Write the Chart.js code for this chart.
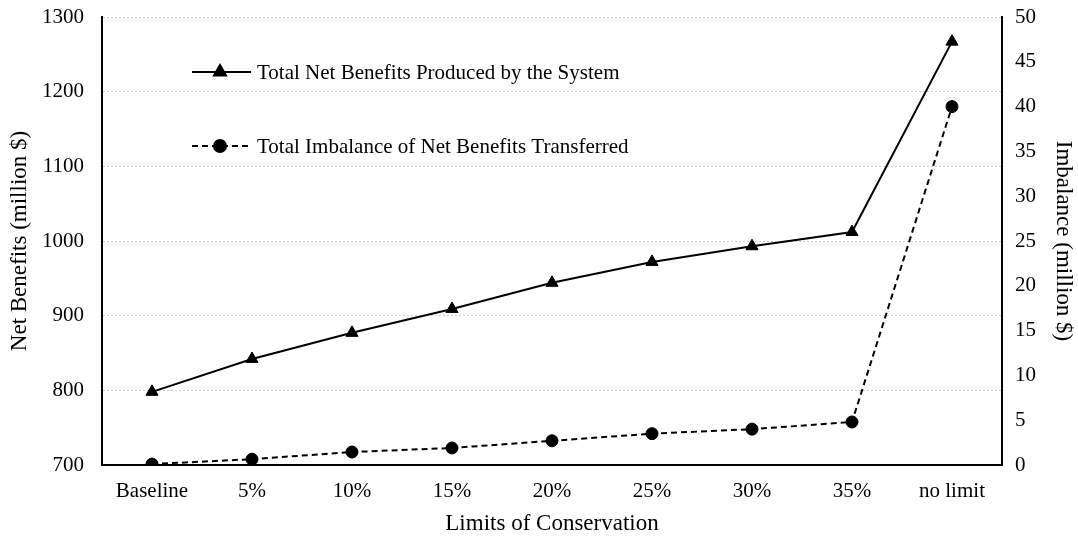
<!DOCTYPE html>
<html>
<head>
<meta charset="utf-8">
<script src="https://cdn.jsdelivr.net/npm/chart.js@4/dist/chart.umd.min.js"></script>
<style>
  html, body { margin: 0; padding: 0; background: #fff; }
  #wrap { width: 1078px; height: 539px; }
</style>
</head>
<body>
<div id="wrap"><canvas id="chart" width="1078" height="539"></canvas></div>
<script>
var categories = ['Baseline', '5%', '10%', '15%', '20%', '25%', '30%', '35%', 'no limit'];
var netBenefits = [798, 842, 877, 909, 944, 972, 993, 1012, 1267];
var imbalance = [0.1, 0.65, 1.45, 1.9, 2.7, 3.5, 4.0, 4.8, 40];
var leftTicks = [700, 800, 900, 1000, 1100, 1200, 1300];
var rightTicks = [0, 5, 10, 15, 20, 25, 30, 35, 40, 45, 50];

var serif = 'Liberation Serif';

// legend sits inside the plot, top left
var innerLegend = {
    id: 'innerLegend',
    afterDraw: function(chart) {
        var ctx = chart.ctx;
        var rows = [
            { y: 72, ds: chart.data.datasets[0] },
            { y: 146, ds: chart.data.datasets[1] }
        ];
        ctx.save();
        rows.forEach(function(r) {
            ctx.beginPath();
            ctx.strokeStyle = '#000';
            ctx.lineWidth = 2;
            ctx.setLineDash(r.ds.borderDash || []);
            ctx.moveTo(192, r.y);
            ctx.lineTo(251, r.y);
            ctx.stroke();
            ctx.setLineDash([]);
            Chart.helpers.drawPoint(ctx, {
                pointStyle: r.ds.pointStyle,
                radius: r.ds.pointRadius,
                borderWidth: 1
            }, 220, r.y);
            ctx.fillStyle = '#000';
            ctx.font = '21px "' + serif + '"';
            ctx.textAlign = 'left';
            ctx.textBaseline = 'middle';
            ctx.fillText(r.ds.label, 257, r.y + 1);
        });
        ctx.restore();
    }
};

function plain(v) { return String(v); }

// fixed axis boxes, no extra room for half tick labels
function fixBox(w) {
    return function(s) {
        s.width = w;
        s.paddingTop = 0;
        s.paddingBottom = 0;
    };
}

new Chart(document.getElementById('chart'), {
    type: 'line',
    data: {
        labels: categories,
        datasets: [{
            label: 'Total Net Benefits Produced by the System',
            data: netBenefits,
            yAxisID: 'y',
            borderColor: '#000',
            backgroundColor: '#000',
            borderWidth: 2,
            pointStyle: 'triangle',
            pointRadius: 7,
            pointBorderWidth: 1,
            tension: 0
        }, {
            label: 'Total Imbalance of Net Benefits Transferred',
            data: imbalance,
            yAxisID: 'y2',
            borderColor: '#000',
            backgroundColor: '#000',
            borderWidth: 2,
            borderDash: [6, 4],
            pointStyle: 'circle',
            pointRadius: 6,
            pointBorderWidth: 1,
            tension: 0
        }]
    },
    options: {
        responsive: false,
        animation: false,
        layout: { padding: { top: 17, left: 0, right: 0, bottom: 0 } },
        plugins: {
            legend: { display: false },
            tooltip: { enabled: false }
        },
        scales: {
            x: {
                offset: true,
                grid: { display: false, drawTicks: false },
                border: { display: true, color: '#000', width: 2 },
                ticks: { color: '#000', font: { family: serif, size: 21 }, padding: 14 },
                title: { display: true, text: 'Limits of Conservation', color: '#000', font: { family: serif, size: 23 }, padding: { top: 2, bottom: 1 } },
                afterFit: function(s) { s.height = 74; s.paddingLeft = 0; s.paddingRight = 0; }
            },
            y: {
                position: 'left',
                min: 700, max: 1300,
                afterBuildTicks: function(s) { s.ticks = leftTicks.map(function(v) { return { value: v }; }); },
                grid: { color: '#cfcfcf', lineWidth: 1, drawTicks: false },
                border: { display: true, color: '#000', width: 2, dash: [2, 2] },
                ticks: { color: '#000', font: { family: serif, size: 21 }, padding: 18, callback: plain },
                title: { display: true, text: 'Net Benefits (million $)', color: '#000', font: { family: serif, size: 23 }, padding: { top: 6, bottom: 0 } },
                afterFit: fixBox(102)
            },
            y2: {
                position: 'right',
                min: 0, max: 50,
                afterBuildTicks: function(s) { s.ticks = rightTicks.map(function(v) { return { value: v }; }); },
                grid: { display: false, drawTicks: false },
                border: { display: true, color: '#000', width: 2 },
                ticks: { color: '#000', font: { family: serif, size: 21 }, padding: 13, callback: plain },
                title: { display: true, text: 'Imbalance (million $)', color: '#000', font: { family: serif, size: 23 }, padding: { top: 1, bottom: 0 } },
                afterFit: fixBox(76)
            }
        }
    },
    plugins: [innerLegend]
});
</script>
</body>
</html>
